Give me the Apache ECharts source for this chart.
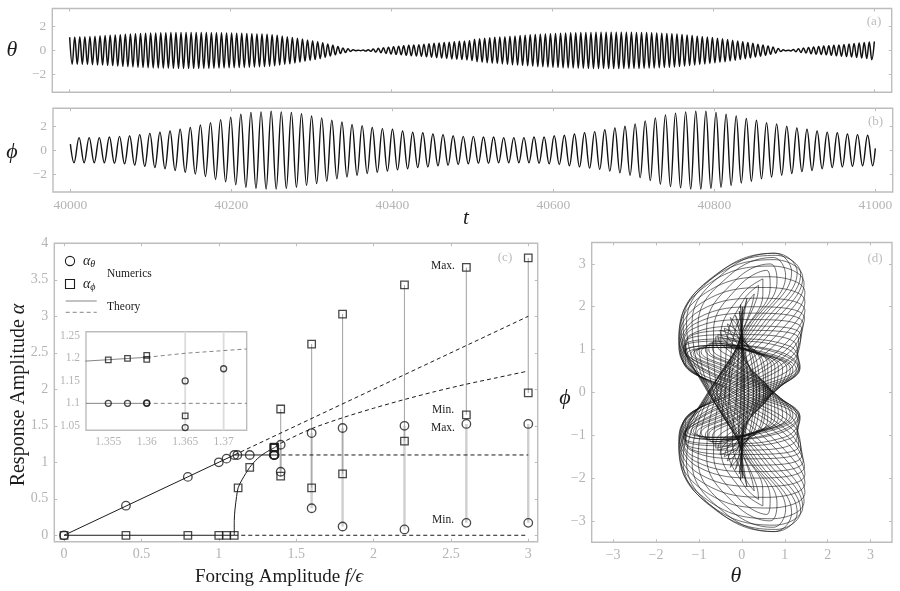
<!DOCTYPE html>
<html>
<head>
<meta charset="utf-8">
<style>html,body{margin:0;padding:0;background:#fff}#chart{width:900px;height:591px}</style>
<script src="https://cdn.jsdelivr.net/npm/echarts@6/dist/echarts.min.js"></script>
</head>
<body>
<div id="chart"></div>
<script>
const thetaStart = 40000, thetaHalfPeriod = 3.1447
const thetaExtrema = [
  1.1,-1.15,1.12,-1.16,1.14,-1.17,1.15,-1.18,1.17,-1.2,1.19,-1.21,1.22,-1.23,1.24,-1.25,1.26,-1.27,1.28,-1.3,
  1.31,-1.33,1.34,-1.36,1.37,-1.38,1.39,-1.41,1.42,-1.43,1.44,-1.44,1.45,-1.46,1.46,-1.47,1.47,-1.48,1.48,-1.48,
  1.49,-1.49,1.49,-1.5,1.5,-1.5,1.5,-1.5,1.5,-1.5,1.5,-1.5,1.49,-1.49,1.49,-1.49,1.48,-1.48,1.48,-1.47,
  1.47,-1.46,1.46,-1.45,1.45,-1.44,1.44,-1.43,1.43,-1.42,1.41,-1.4,1.4,-1.39,1.38,-1.37,1.36,-1.35,1.34,-1.32,
  1.3,-1.28,1.26,-1.23,1.2,-1.17,1.15,-1.12,1.08,-1.05,1.02,-.98,.95,-.91,.87,-.84,.8,-.76,.72,-.69,
  .63,-.58,.53,-.47,.42,-.37,.32,-.26,.21,-.17,.13,-.09,.06,-.03,.02,-.02,.03,-.05,.06,-.08,
  .11,-.14,.17,-.19,.22,-.25,.27,-.3,.31,-.33,.35,-.36,.38,-.4,.42,-.44,.45,-.47,.48,-.5,
  .52,-.54,.55,-.57,.59,-.61,.62,-.64,.66,-.67,.69,-.71,.72,-.74,.76,-.77,.79,-.81,.83,-.85,
  .93,-.95,.97,-.99,1.01,-1.03,1.05,-1.07,1.09,-1.1,1.12,-1.13,1.15,-1.17,1.18,-1.2,1.21,-1.23,1.24,-1.25,
  1.27,-1.28,1.3,-1.31,1.33,-1.34,1.35,-1.37,1.38,-1.39,1.4,-1.41,1.42,-1.43,1.44,-1.45,1.45,-1.46,1.47,-1.47,
  1.48,-1.48,1.49,-1.49,1.5,-1.5,1.5,-1.51,1.51,-1.51,1.51,-1.51,1.52,-1.52,1.52,-1.52,1.52,-1.52,1.51,-1.51,
  1.51,-1.51,1.51,-1.5,1.5,-1.5,1.5,-1.49,1.49,-1.48,1.47,-1.47,1.46,-1.45,1.44,-1.43,1.42,-1.41,1.4,-1.39,
  1.37,-1.35,1.33,-1.31,1.29,-1.27,1.25,-1.23,1.2,-1.18,1.16,-1.14,1.11,-1.09,1.07,-1.04,1.02,-.99,.97,-.94,
  .91,-.88,.85,-.82,.79,-.76,.72,-.69,.66,-.63,.59,-.55,.52,-.48,.45,-.41,.37,-.33,.28,-.23,
  .16,-.1,.05,-.03,.02,-.04,.07,-.11,.14,-.17,.2,-.22,.25,-.27,.29,-.31,.33,-.34,.36,-.37,
  .38,-.4,.42,-.44,.46,-.48,.5,-.52,.54,-.56,.58,-.6,.62,-.64,.66,-.68,.7,-.78,.74
]
const phiStart = 40004.5, phiHalfPeriod = 6.28
const phiFirst = .5, phiLast = .15
const phiExtrema = [
  -1.05,1.05,-1.05,1.05,-1.05,1.05,-1.05,1.1,-1.1,1.15,-1.15,1.2,-1.25,1.3,-1.35,1.4,-1.45,1.5,-1.55,1.6,
  -1.7,1.75,-1.85,1.9,-2.0,2.1,-2.2,2.3,-2.45,2.55,-2.65,2.75,-2.9,3.0,-3.1,3.15,-3.2,3.2,-3.25,3.25,
  -3.25,3.2,-3.2,3.15,-3.1,3.05,-2.95,2.85,-2.8,2.7,-2.6,2.5,-2.4,2.35,-2.25,2.15,-2.1,2.05,-1.95,1.9,
  -1.85,1.8,-1.75,1.75,-1.65,1.6,-1.55,1.5,-1.45,1.45,-1.4,1.35,-1.3,1.3,-1.25,1.2,-1.2,1.15,-1.15,1.15,
  -1.1,1.1,-1.1,1.1,-1.05,1.05,-1.05,1.05,-1.05,1.05,-1.05,1.1,-1.1,1.1,-1.15,1.2,-1.2,1.25,-1.3,1.35,
  -1.4,1.45,-1.5,1.55,-1.6,1.7,-1.75,1.85,-1.9,2.0,-2.1,2.2,-2.3,2.45,-2.55,2.7,-2.85,2.95,-3.05,3.1,
  -3.15,3.2,-3.25,3.25,-3.25,3.25,-3.2,3.15,-3.1,3.0,-2.95,2.85,-2.75,2.65,-2.6,2.5,-2.4,2.3,-2.25,2.2,
  -2.1,2.0,-1.95,1.85,-1.8,1.75,-1.7,1.6,-1.55,1.5,-1.45,1.45,-1.4,1.35,-1.35,1.3,-1.3,1.25,-1.3
]

// panel (d): the mesh can't be read point by point, so these loops are eyeballed
// estimates (one row per loop) fitted to its outline and dark arcs, not exact samples
const orbitTheta = [
  .03,.02,-.01,-.03,-.02,.01,.03,.02,-.01,-.03,-.02,.01,
  .06,.03,-.03,-.06,-.03,.03,.06,.03,-.03,-.06,-.03,.03,
  .15,.09,-.05,-.15,-.09,.05,.15,.09,-.05,-.15,-.09,.05,
  .27,.19,-.08,-.27,-.19,.08,.27,.19,-.08,-.27,-.19,.08,
  .34,.26,-.08,-.34,-.26,.08,.34,.26,-.08,-.34,-.26,.08,
  .41,.34,-.08,-.41,-.34,.08,.41,.34,-.08,-.41,-.34,.08,
  .51,.44,-.07,-.51,-.44,.07,.51,.44,-.07,-.51,-.44,.07,
  .56,.51,-.04,-.56,-.51,.04,.56,.51,-.04,-.56,-.51,.04,
  .61,.6,-.01,-.61,-.6,.01,.61,.6,-.01,-.61,-.6,.01,
  .66,.69,.03,-.66,-.69,-.03,.66,.69,.03,-.66,-.69,-.03,
  .7,.77,.07,-.7,-.77,-.07,.7,.77,.07,-.7,-.77,-.07,
  .72,.85,.13,-.72,-.85,-.13,.72,.85,.13,-.72,-.85,-.13,
  .74,.95,.21,-.74,-.95,-.21,.74,.95,.21,-.74,-.95,-.21,
  .75,1.05,.3,-.75,-1.05,-.3,.75,1.05,.3,-.75,-1.05,-.3,
  .74,1.13,.39,-.74,-1.13,-.39,.74,1.13,.39,-.74,-1.13,-.39,
  .71,1.19,.49,-.71,-1.19,-.49,.71,1.19,.49,-.71,-1.19,-.49,
  .65,1.27,.62,-.65,-1.27,-.62,.65,1.27,.62,-.65,-1.27,-.62,
  .58,1.32,.74,-.58,-1.32,-.74,.58,1.32,.74,-.58,-1.32,-.74,
  .47,1.35,.88,-.47,-1.35,-.88,.47,1.35,.88,-.47,-1.35,-.88,
  .34,1.36,1.01,-.34,-1.36,-1.01,.34,1.36,1.01,-.34,-1.36,-1.01,
  .22,1.34,1.12,-.22,-1.34,-1.12,.22,1.34,1.12,-.22,-1.34,-1.12,
  .08,1.31,1.23,-.08,-1.31,-1.23,.08,1.31,1.23,-.08,-1.31,-1.23,
  -.05,1.26,1.32,.05,-1.26,-1.32,-.05,1.26,1.32,.05,-1.26,-1.32,
  -.16,1.21,1.37,.16,-1.21,-1.37,-.16,1.21,1.37,.16,-1.21,-1.37,
  -.23,1.17,1.4,.23,-1.17,-1.4,-.23,1.17,1.4,.23,-1.17,-1.4,
  -.34,1.1,1.43,.34,-1.1,-1.43,-.34,1.1,1.43,.34,-1.1,-1.43,
  -.41,1.04,1.46,.41,-1.04,-1.46,-.41,1.04,1.46,.41,-1.04,-1.46,
  -.49,.98,1.47,.49,-.98,-1.47,-.49,.98,1.47,.49,-.98,-1.47,
  -.58,.89,1.47,.58,-.89,-1.47,-.58,.89,1.47,.58,-.89,-1.47,
  -.64,.82,1.47,.64,-.82,-1.47,-.64,.82,1.47,.64,-.82,-1.47,
  -.7,.75,1.45,.7,-.75,-1.45,-.7,.75,1.45,.7,-.75,-1.45,
  -.75,.67,1.42,.75,-.67,-1.42,-.75,.67,1.42,.75,-.67,-1.42,
  -.79,.58,1.37,.79,-.58,-1.37,-.79,.58,1.37,.79,-.58,-1.37,
  -.78,.51,1.29,.78,-.51,-1.29,-.78,.51,1.29,.78,-.51,-1.29,
  -.76,.4,1.16,.76,-.4,-1.16,-.76,.4,1.16,.76,-.4,-1.16,
  -.73,.29,1.02,.73,-.29,-1.02,-.73,.29,1.02,.73,-.29,-1.02,
  -.66,.17,.82,.66,-.17,-.82,-.66,.17,.82,.66,-.17,-.82,
  -.58,.08,.66,.58,-.08,-.66,-.58,.08,.66,.58,-.08,-.66,
  -.49,0,.49,.49,0,-.49,-.49,0,.49,.49,0,-.49,
  -.39,-.05,.34,.39,.05,-.34,-.39,-.05,.34,.39,.05,-.34,
  -.29,-.07,.22,.29,.07,-.22,-.29,-.07,.22,.29,.07,-.22,
  -.12,-.05,.07,.12,.05,-.07,-.12,-.05,.07,.12,.05,-.07,
  -.02,-.01,.01,.02,.01,-.01,-.02,-.01,.01,.02,.01,-.01
]
const orbitPhi = [
  0,1.03,1.78,2.05,1.78,1.03,0,-1.03,-1.78,-2.05,-1.78,-1.03,
  0,.95,1.65,1.9,1.65,.95,0,-.95,-1.65,-1.9,-1.65,-.95,
  0,.9,1.56,1.8,1.56,.9,0,-.9,-1.56,-1.8,-1.56,-.9,
  0,.88,1.52,1.75,1.52,.88,0,-.88,-1.52,-1.75,-1.52,-.88,
  0,.8,1.39,1.6,1.39,.8,0,-.8,-1.39,-1.6,-1.39,-.8,
  0,.75,1.3,1.5,1.3,.75,0,-.75,-1.3,-1.5,-1.3,-.75,
  0,.73,1.26,1.45,1.26,.73,0,-.73,-1.26,-1.45,-1.26,-.73,
  0,.68,1.17,1.35,1.17,.68,0,-.68,-1.17,-1.35,-1.17,-.68,
  0,.65,1.13,1.3,1.13,.65,0,-.65,-1.13,-1.3,-1.13,-.65,
  0,.6,1.04,1.2,1.04,.6,0,-.6,-1.04,-1.2,-1.04,-.6,
  0,.58,1,1.15,1,.58,0,-.58,-1,-1.15,-1,-.58,
  0,.58,1,1.15,1,.58,0,-.58,-1,-1.15,-1,-.58,
  0,.55,.95,1.1,.95,.55,0,-.55,-.95,-1.1,-.95,-.55,
  0,.55,.95,1.1,.95,.55,0,-.55,-.95,-1.1,-.95,-.55,
  0,.53,.91,1.05,.91,.53,0,-.53,-.91,-1.05,-.91,-.53,
  0,.53,.91,1.05,.91,.53,0,-.53,-.91,-1.05,-.91,-.53,
  0,.53,.91,1.05,.91,.53,0,-.53,-.91,-1.05,-.91,-.53,
  0,.55,.95,1.1,.95,.55,0,-.55,-.95,-1.1,-.95,-.55,
  0,.55,.95,1.1,.95,.55,0,-.55,-.95,-1.1,-.95,-.55,
  0,.6,1.04,1.2,1.04,.6,0,-.6,-1.04,-1.2,-1.04,-.6,
  0,.63,1.08,1.25,1.08,.63,0,-.63,-1.08,-1.25,-1.08,-.63,
  0,.68,1.17,1.35,1.17,.68,0,-.68,-1.17,-1.35,-1.17,-.68,
  0,.73,1.26,1.45,1.26,.73,0,-.73,-1.26,-1.45,-1.26,-.73,
  0,.78,1.34,1.55,1.34,.78,0,-.78,-1.34,-1.55,-1.34,-.78,
  0,.85,1.47,1.7,1.47,.85,0,-.85,-1.47,-1.7,-1.47,-.85,
  0,.93,1.6,1.85,1.6,.93,0,-.93,-1.6,-1.85,-1.6,-.93,
  0,1,1.73,2,1.73,1,0,-1,-1.73,-2,-1.73,-1,
  0,1.1,1.91,2.2,1.91,1.1,0,-1.1,-1.91,-2.2,-1.91,-1.1,
  0,1.23,2.12,2.45,2.12,1.23,0,-1.23,-2.12,-2.45,-2.12,-1.23,
  0,1.35,2.34,2.7,2.34,1.35,0,-1.35,-2.34,-2.7,-2.34,-1.35,
  0,1.48,2.55,2.95,2.55,1.48,0,-1.48,-2.55,-2.95,-2.55,-1.48,
  0,1.55,2.68,3.1,2.68,1.55,0,-1.55,-2.68,-3.1,-2.68,-1.55,
  0,1.6,2.77,3.2,2.77,1.6,0,-1.6,-2.77,-3.2,-2.77,-1.6,
  0,1.63,2.81,3.25,2.81,1.63,0,-1.63,-2.81,-3.25,-2.81,-1.63,
  0,1.63,2.81,3.25,2.81,1.63,0,-1.63,-2.81,-3.25,-2.81,-1.63,
  0,1.58,2.73,3.15,2.73,1.58,0,-1.58,-2.73,-3.15,-2.73,-1.58,
  0,1.5,2.6,3,2.6,1.5,0,-1.5,-2.6,-3,-2.6,-1.5,
  0,1.43,2.47,2.85,2.47,1.43,0,-1.43,-2.47,-2.85,-2.47,-1.43,
  0,1.33,2.29,2.65,2.29,1.33,0,-1.33,-2.29,-2.65,-2.29,-1.33,
  0,1.25,2.17,2.5,2.17,1.25,0,-1.25,-2.17,-2.5,-2.17,-1.25,
  0,1.15,1.99,2.3,1.99,1.15,0,-1.15,-1.99,-2.3,-1.99,-1.15,
  0,1.1,1.91,2.2,1.91,1.1,0,-1.1,-1.91,-2.2,-1.91,-1.1,
  0,1,1.73,2,1.73,1,0,-1,-1.73,-2,-1.73,-1
]

// panel (c) numerics
const thetaF = [0,.4,.8,1,1.05,1.1,1.12,1.2,1.355,1.3575,1.36,1.36,1.4,1.4,1.6,1.6,1.8,1.8,2.2,2.2,2.6,2.6,3,3]
const thetaA = [0,.405,.8,1,1.05,1.1,1.1,1.1,1.1,1.1,1.1,1.101,1.24,.87,1.4,.37,1.47,.12,1.5,.08,1.525,.17,1.525,.17]
const phiF = [0,.4,.8,1,1.05,1.1,1.125,1.2,1.355,1.3575,1.36,1.36,1.4,1.4,1.6,1.6,1.8,1.8,2.2,2.2,2.6,2.6,3,3]
const phiA = [0,0,0,0,0,0,.65,.93,1.197,1.2,1.198,1.207,1.73,.81,2.62,.65,3.03,.84,3.43,1.29,3.67,1.65,3.8,1.95]

const rangeF = [1.4,1.6,1.8,2.2,2.6,3]
const thetaMax = [1.24,1.4,1.47,1.5,1.525,1.525]
const thetaMin = [.87,.37,.12,.08,.17,.17]
const phiMax = [1.73,2.62,3.03,3.43,3.67,3.8]
const phiMin = [.81,.65,.84,1.29,1.65,1.95]

// panel (c) theory branches
const solidThetaF = [0,1.1,1.36], solidThetaA = [0,1.1,1.1]
const dashFlatF = [1.36,3], dashFlatA = [1.1,1.1]
const dashLinearF = [1.1,3], dashLinearA = [1.1,3]
const solidZeroF = [0,1.1], solidZeroA = [0,0]
const dashZeroF = [1.1,3], dashZeroA = [0,0]
const solidPhiF = [1.1,1.1,1.105,1.115,1.125,1.15,1.2,1.25,1.3,1.36]
const solidPhiA = [0,.2,.36,.53,.65,.76,.93,1.05,1.13,1.2]
const dashPhiF = [1.36,1.4,1.6,1.8,2,2.2,2.4,2.6,2.8,3]
const dashPhiA = [1.2,1.26,1.46,1.61,1.74,1.86,1.97,2.07,2.16,2.25]

// inset numerics
const insetThetaF = [1.355,1.3575,1.36,1.36,1.365,1.365,1.37]
const insetThetaA = [1.1,1.1,1.1,1.101,1.15,1.046,1.177]
const insetPhiF = [1.355,1.3575,1.36,1.36,1.365]
const insetPhiA = [1.197,1.2,1.198,1.207,1.072]
const insetRangeF = [1.365,1.37]
const insetUpperF = [1.352,1.36], insetUpperA = [1.194,1.2025]
const insetUpperDashF = [1.36,1.365,1.373], insetUpperDashA = [1.2025,1.2115,1.221]

const timeTicks = [40000,40200,40400,40600,40800,41000]
const seriesTicks = [-2,0,2]
const forcingTicks = [0,.5,1,1.5,2,2.5,3]
const responseTicks = [0,.5,1,1.5,2,2.5,3,3.5,4]
const insetXTicks = [1.355,1.36,1.365,1.37]
const insetYTicks = [1.05,1.1,1.15,1.2,1.25]
const phaseTicks = [-3,-2,-1,0,1,2,3]

const GRAY = '#b4b4b4'
const FRAME = '#bdbdbd'
const INK = '#1c1c1c'
const SERIF = '"Liberation Serif", serif'
const fmt = v => String(v).replace('-', '\u2212')

const grids = [
  { left: 52.3, top: 8.5, width: 839.4, height: 83.8 },
  { left: 53, top: 108.3, width: 839.7, height: 83.7 },
  { left: 54.3, top: 243.3, width: 483.4, height: 298.4 },
  { left: 86, top: 331.7, width: 160.7, height: 98.6, backgroundColor: '#fff', z: 3 },
  { left: 591.7, top: 242.5, width: 300.3, height: 299.8 },
].map(g => ({ backgroundColor: '#fff', show: true, borderColor: FRAME, borderWidth: 1.4, containLabel: false, ...g }))

const xAxes = [], yAxes = []
const frameAxes = (gridIndex, xr, yr, xTicks, yTicks, showX, fontSize) => {
  const base = (position, ticks, range, labelled, margin) => ({
    type: 'value', gridIndex, position, min: range[0], max: range[1], scale: true,
    axisLine: { show: false, onZero: false }, splitLine: { show: false },
    axisTick: { show: true, inside: true, length: 3, customValues: ticks, lineStyle: { color: FRAME, width: 1 } },
    axisLabel: labelled
      ? { show: true, customValues: ticks, formatter: fmt, color: GRAY, fontFamily: SERIF, fontSize, margin }
      : { show: false },
  })
  xAxes.push(base('bottom', xTicks, xr, showX, 6), base('top', xTicks, xr, false, 0))
  yAxes.push(base('left', yTicks, yr, true, 6), base('right', yTicks, yr, false, 0))
}
frameAxes(0, [39978.4,41021.6], [-3.5,3.5], timeTicks, seriesTicks, false, 13.5)
frameAxes(1, [39978.4,41021.6], [-3.5,3.5], timeTicks, seriesTicks, true, 13.5)
frameAxes(2, [-.063,3.061], [-.088,4], forcingTicks, responseTicks, true, 14)
frameAxes(3, [1.3521,1.373], [1.04,1.2595], insetXTicks, insetYTicks, true, 11.5)
frameAxes(4, [-3.5,3.5], [-3.5,3.5], phaseTicks, phaseTicks, true, 14)

const axisIdx = g => ({ xAxisIndex: g * 2, yAxisIndex: g * 2 })
const zip = (xs, ys) => xs.map((x, i) => [x, ys[i]])

const curve = (g, data, lineStyle, extra) => ({
  type: 'line', ...axisIdx(g), data, showSymbol: false, symbol: 'none', silent: true, animation: false,
  lineStyle: { color: INK, width: 1, ...lineStyle }, ...extra,
})
const ranges = (xs, hi, lo) => xs.flatMap((x, i) => [[x, hi[i]], [x, lo[i]], [x, '-']])
const markers = (g, xs, ys, symbol, size, z) => ({
  type: 'scatter', ...axisIdx(g), data: zip(xs, ys), symbol, symbolSize: size, silent: true, animation: false, z,
  itemStyle: { color: 'rgba(0,0,0,0)', borderColor: INK, borderWidth: 1.3 },
})

const thetaData = thetaExtrema.map((v, i) => [thetaStart + i * thetaHalfPeriod, v])
const phiData = [[40000, phiFirst], ...phiExtrema.map((v, i) => [phiStart + i * phiHalfPeriod, v]), [41000, phiLast]]
const insetSpan = [1.2595, 1.04]

const series = [
  curve(0, thetaData, { width: 1.5, color: '#111' }, { smooth: .4, smoothMonotone: 'x' }),
  curve(1, phiData, { width: 1.4, color: '#111' }, { smooth: .4, smoothMonotone: 'x' }),
  curve(4, zip(orbitTheta, orbitPhi), { width: .6, color: '#111' }, { smooth: .42 }),

  curve(2, ranges(rangeF, thetaMax, thetaMin), { color: '#cfcfcf', width: 2.4 }),
  curve(2, ranges(rangeF, phiMax, phiMin), { color: '#a9a9a9', width: 1.1 }),
  curve(2, zip(solidThetaF, solidThetaA)),
  curve(2, zip(solidZeroF, solidZeroA)),
  curve(2, zip(solidPhiF, solidPhiA), {}, { smooth: .3 }),
  curve(2, zip(dashFlatF, dashFlatA), { type: [4, 3] }),
  curve(2, zip(dashLinearF, dashLinearA), { type: [4, 3] }),
  curve(2, zip(dashZeroF, dashZeroA), { type: [4, 3] }),
  curve(2, zip(dashPhiF, dashPhiA), { type: [4, 3] }, { smooth: .3 }),
  markers(2, thetaF, thetaA, 'circle', 8.5, 5),
  markers(2, phiF, phiA, 'rect', 7.5, 5),

  curve(3, ranges(insetRangeF, insetRangeF.map(() => insetSpan[0]), insetRangeF.map(() => insetSpan[1])), { color: '#dcdcdc', width: 1.8 }, { z: 4 }),
  curve(3, zip(insetUpperF, insetUpperA), { color: '#777', width: .9 }, { z: 4 }),
  curve(3, zip(insetUpperDashF, insetUpperDashA), { color: '#777', width: .9, type: [4, 3] }, { z: 4 }),
  curve(3, [[1.3521,1.1],[1.36,1.1]], { color: '#777', width: .9 }, { z: 4 }),
  curve(3, [[1.36,1.1],[1.373,1.1]], { color: '#777', width: .9, type: [4, 3] }, { z: 4 }),
  markers(3, insetThetaF, insetThetaA, 'circle', 6, 6),
  markers(3, insetPhiF, insetPhiA, 'rect', 5.5, 6),
]

const label = (text, x, y, style, extra) => ({
  type: 'text', x, y, z: 50, silent: true, ...extra,
  style: { text, fill: INK, font: `12px ${SERIF}`, textAlign: 'center', textVerticalAlign: 'middle', ...style },
})
const italic = size => `italic ${size}px ${SERIF}`
const panelTag = (text, x, y) => label(text, x, y, { fill: '#bdbdbd', font: `13px ${SERIF}` })
const mathRich = {
  i: { fontFamily: SERIF, fontStyle: 'italic', fontSize: 14, fill: INK },
  s: { fontFamily: SERIF, fontStyle: 'italic', fontSize: 10, fill: INK, padding: [6, 0, 0, 0] },
}
const titleRich = size => ({
  n: { fontFamily: SERIF, fontSize: size, fill: INK },
  i: { fontFamily: SERIF, fontStyle: 'italic', fontSize: size, fill: INK },
})

const graphic = [
  label('\u03b8', 12, 50, { font: italic(22) }),
  label('\u03d5', 12, 152, { font: italic(22) }),
  label('t', 466, 218, { font: italic(21) }),
  label('\u03b8', 736, 576, { font: italic(22) }),
  label('\u03d5', 565, 398, { font: italic(22) }),
  panelTag('(a)', 874, 22), panelTag('(b)', 875.5, 122), panelTag('(c)', 505, 258), panelTag('(d)', 875, 259),
  label('{n|Response Amplitude }{i|\u03b1}', 0, 0, { rich: titleRich(20), font: undefined }, { x: 19, y: 395, rotation: Math.PI / 2 }),
  label('{n|Forcing Amplitude }{i|f/\u03f5}', 279, 577, { rich: titleRich(19), font: undefined }),
  label('Max.', 443, 266, { font: `11.5px ${SERIF}` }),
  label('Min.', 443, 410, { font: `11.5px ${SERIF}` }),
  label('Max.', 443, 428, { font: `11.5px ${SERIF}` }),
  label('Min.', 443, 520, { font: `11.5px ${SERIF}` }),
  label('Numerics', 107, 274, { font: `11.5px ${SERIF}`, textAlign: 'left' }),
  label('Theory', 107, 307, { font: `11.5px ${SERIF}`, textAlign: 'left' }),
  { type: 'circle', z: 50, silent: true, shape: { cx: 70, cy: 261, r: 4.6 }, style: { fill: 'none', stroke: INK, lineWidth: 1.1 } },
  { type: 'rect', z: 50, silent: true, shape: { x: 65.5, y: 279.5, width: 9, height: 9 }, style: { fill: 'none', stroke: INK, lineWidth: 1.1 } },
  label('{i|\u03b1}{s|\u03b8}', 83, 261, { rich: mathRich, textAlign: 'left', font: undefined }),
  label('{i|\u03b1}{s|\u03d5}', 83, 284, { rich: mathRich, textAlign: 'left', font: undefined }),
  { type: 'line', z: 50, silent: true, shape: { x1: 65.7, y1: 301, x2: 96.7, y2: 301 }, style: { stroke: '#777', lineWidth: .9 } },
  { type: 'line', z: 50, silent: true, shape: { x1: 65.7, y1: 312.3, x2: 96.7, y2: 312.3 }, style: { stroke: '#777', lineWidth: .9, lineDash: [4, 3] } },
]

const chart = echarts.init(document.getElementById('chart'))
chart.setOption({
  animation: false,
  backgroundColor: '#fff',
  grid: grids,
  xAxis: xAxes,
  yAxis: yAxes,
  series,
  graphic,
})
window.addEventListener('resize', () => chart.resize())
</script>
</body>
</html>
